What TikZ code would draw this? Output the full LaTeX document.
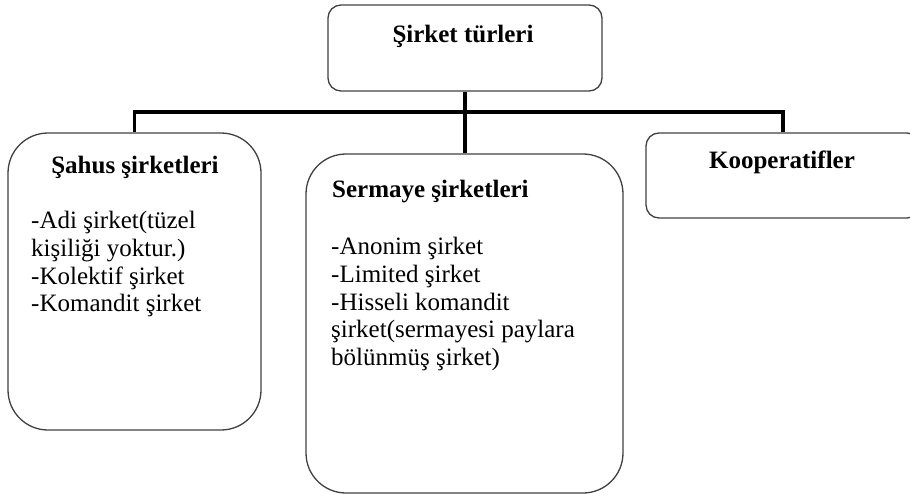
\documentclass[tikz,border=0pt]{standalone}
\usepackage{fontspec}
\setmainfont{Liberation Serif}

\begin{document}
\begin{tikzpicture}[x=1pt, y=-1pt,
    kutu/.style={draw=black!75, line width=1.3pt, rounded corners=#1, inner sep=0pt},
    kutu/.default=13pt,
    baslik/.style={font=\fontsize{25}{28}\selectfont\bfseries, inner sep=0pt},
    madde/.style={font=\fontsize{25}{27.8}\selectfont, align=left, inner sep=0pt, anchor=north west},
    bag/.style={line width=3.2pt, black}
    ]
    \useasboundingbox (0,0) rectangle (910,495);

    \node [kutu, minimum width=274pt, minimum height=86pt] (tur) at (465, 48) {};
    \node [baslik, anchor=base] (turad) at (463, 43) {Şirket türleri};

    \node [kutu=40pt, minimum width=253pt, minimum height=297pt] (sahus) at (134.5, 281.5) {};
    \node [baslik, anchor=base] (sahusad) at (135, 173) {Şahus şirketleri};
    \node [madde] (sahusli) at (31, 211) {-Adi şirket(tüzel\\kişiliği yoktur.)\\-Kolektif şirket\\-Komandit şirket};

    \node [kutu=40pt, minimum width=317pt, minimum height=339pt] (sermaye) at (464.5, 323.5) {};
    \node [baslik, anchor=base west] (sermayead) at (332, 197) {Sermaye şirketleri};
    \node [madde] (sermayeli) at (331, 237) {-Anonim şirket\\-Limited şirket\\-Hisseli komandit\\şirket(sermayesi paylara\\bölünmüş şirket)};

    \node [kutu, minimum width=274pt, minimum height=85pt] (koop) at (783, 175.5) {};
    \node [baslik, anchor=base] (koopad) at (782, 168) {Kooperatifler};

    \coordinate (bar) at (465, 112);
    \draw [bag] (tur) -- (bar);
    \draw [bag] (bar) -| (sahus);
    \draw [bag] (bar) -| (koop);
    \draw [bag] (bar) -- (bar |- sermaye.north);
\end{tikzpicture}
\end{document}
